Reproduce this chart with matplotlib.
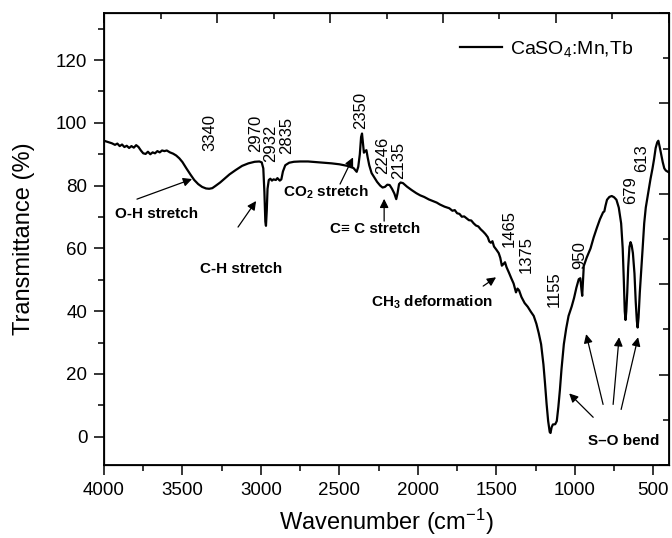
import numpy as np
import matplotlib.pyplot as plt
from matplotlib.ticker import MultipleLocator

plt.rcParams['font.family'] = ['Liberation Sans', 'DejaVu Sans']
plt.rcParams['mathtext.fontset'] = 'custom'
plt.rcParams['mathtext.rm'] = 'Liberation Sans'
plt.rcParams['mathtext.bf'] = 'Liberation Sans:bold'
plt.rcParams['mathtext.it'] = 'Liberation Sans:italic'

# FTIR spectrum
wavenumber = [4000, 3970, 3950, 3930, 3915, 3900, 3885, 3870, 3855, 3840, 3825, 3810, 3795, 3780,
              3765, 3750, 3735, 3720, 3705, 3690, 3675, 3660, 3645, 3630, 3615, 3600, 3580, 3560,
              3540, 3520, 3500, 3475, 3450, 3425, 3400, 3375, 3350, 3330, 3310, 3290, 3260, 3230,
              3200, 3160, 3120, 3080, 3040, 3010, 2995, 2985, 2978, 2972, 2968, 2963, 2958, 2950,
              2940, 2930, 2920, 2905, 2895, 2880, 2870, 2860, 2845, 2820, 2790, 2750, 2700, 2650,
              2600, 2550, 2500, 2450, 2410, 2390, 2380, 2370, 2362, 2356, 2350, 2344, 2336, 2328,
              2320, 2310, 2295, 2280, 2260, 2240, 2225, 2210, 2195, 2180, 2165, 2150, 2138, 2130,
              2120, 2110, 2095, 2070, 2040, 2010, 1985, 1960, 1930, 1900, 1880, 1860, 1830, 1800,
              1780, 1765, 1750, 1735, 1720, 1705, 1690, 1675, 1660, 1645, 1630, 1615, 1600, 1585,
              1570, 1555, 1545, 1535, 1525, 1515, 1500, 1485, 1475, 1465, 1455, 1445, 1435, 1420,
              1405, 1390, 1375, 1365, 1355, 1340, 1320, 1300, 1280, 1262, 1245, 1230, 1215, 1200,
              1190, 1180, 1170, 1160, 1155, 1148, 1140, 1125, 1115, 1105, 1095, 1085, 1070, 1055,
              1040, 1020, 1005, 990, 975, 965, 958, 953, 948, 943, 925, 900, 880, 860, 840, 820,
              812, 805, 795, 780, 765, 750, 735, 720, 705, 695, 688, 682, 677, 672, 666, 660, 652,
              645, 638, 630, 620, 612, 605, 600, 594, 586, 576, 568, 558, 548, 538, 528, 518, 505,
              495, 485, 475, 468, 460, 450, 440, 430, 420, 400]
transmittance = [94.3, 93.8, 93.5, 93.0, 93.4, 92.6, 93.1, 92.3, 92.7, 92.0, 92.6, 92.1, 92.9, 92.3,
                 91.2, 90.3, 90.1, 90.8, 90.0, 90.6, 90.3, 91.0, 90.6, 91.2, 91.0, 91.2, 90.6, 90.2,
                 89.6, 88.7, 87.5, 85.5, 83.6, 81.8, 80.5, 79.6, 79.1, 79.0, 79.2, 79.9, 81.0, 82.3,
                 83.6, 85.0, 86.3, 87.1, 87.6, 87.7, 87.4, 85.5, 78.0, 68.5, 67.2, 72.0, 79.0, 81.8,
                 82.2, 81.6, 82.0, 81.8, 82.4, 81.6, 82.0, 84.5, 86.5, 87.3, 87.6, 87.7, 87.7, 87.5,
                 87.3, 87.1, 86.8, 86.3, 85.6, 84.4, 86.0, 90.0, 95.5, 96.6, 93.5, 90.5, 91.0, 91.3,
                 89.0, 86.5, 84.0, 82.8, 81.2, 80.0, 79.4, 79.6, 80.3, 80.2, 79.0, 77.5, 75.7, 77.5,
                 80.5, 81.0, 80.8, 79.7, 78.6, 77.6, 76.9, 76.4, 75.6, 75.0, 74.6, 74.0, 73.3, 72.8,
                 72.0, 72.2, 71.2, 71.0, 70.1, 70.2, 69.6, 69.0, 68.9, 68.0, 67.3, 67.0, 66.1, 65.4,
                 64.6, 63.6, 62.2, 61.8, 62.3, 60.6, 59.6, 58.5, 57.0, 54.5, 55.0, 55.6, 54.0, 52.3,
                 50.5, 48.8, 46.0, 47.2, 46.6, 44.5, 42.6, 41.4, 39.8, 38.5, 36.0, 33.0, 29.5, 23.0,
                 17.0, 10.5, 5.0, 1.5, 1.2, 3.0, 3.9, 4.0, 5.0, 9.5, 15.0, 21.5, 29.5, 34.5,
                 38.5, 41.5, 44.2, 47.5, 50.2, 50.5, 47.0, 44.9, 50.0, 54.4, 57.0, 60.0, 63.5, 66.5, 69.3, 71.5,
                 71.8, 73.5, 75.5, 76.4, 76.7, 76.3, 75.5, 73.0, 68.0, 60.0, 50.0, 40.0, 37.2, 40.0, 46.0, 54.0, 60.5,
                 62.0, 61.0, 58.5, 52.0, 43.0, 37.0, 34.8, 38.0, 46.0, 53.5, 60.0, 68.0, 73.0, 76.0, 79.0, 82.1, 85.5,
                 88.5, 92.0, 93.8, 94.3, 92.5, 90.0, 87.5, 85.5, 84.8, 84.2]

# peak labels (text, x, y of label bottom)
peak_text = ["3340", "2970", "2932", "2835", "2350", "2246", "2135",
             "1465", "1375", "1155", "950", "679", "613"]
peak_x = [3324, 3032, 2937, 2836, 2362, 2224, 2122, 1418, 1312, 1132, 966, 643, 573]
peak_y = [91.1, 90.6, 87.4, 90.0, 98.0, 83.7, 82.1, 60.3, 52.3, 41.2, 53.4, 74.1, 84.2]

# band assignments (text, text x, text y)
band_text = ["O-H stretch", "C-H stretch", r"CO$_\mathbf{2}$ stretch", "C\u2261 C stretch",
             r"CH$_\mathbf{3}$ deformation", "S\u2013O bend"]
band_x = [3930, 3388, 2859, 2560, 2298, 915]
band_y = [70.9, 53.4, 77.9, 66.1, 42.9, -1.5]

# arrows: tail (x, y) -> head (x, y)
arrow_tail_x = [3790, 3146, 2496, 2215, 1584, 883, 820, 756, 705]
arrow_tail_y = [75.7, 66.8, 80.5, 68.7, 48.0, 6.2, 10.3, 10.3, 8.7]
arrow_head_x = [3439, 3031, 2413, 2215, 1502, 1036, 928, 718, 597]
arrow_head_y = [82.1, 75.1, 89.0, 75.8, 50.8, 13.8, 32.7, 31.7, 31.7]

fig = plt.figure(figsize=(6.72, 5.38), dpi=100)
ax = fig.add_axes([104/672, 1-465/538, 565/672, 452/538])

ax.plot(wavenumber, transmittance, color='black', linewidth=1.6, label=r'CaSO$_4$:Mn,Tb')
ax.set_xlim(4000, 400)
ax.set_ylim(-9, 135)

ax.xaxis.set_major_locator(MultipleLocator(500))
ax.xaxis.set_minor_locator(MultipleLocator(250))
ax.yaxis.set_major_locator(MultipleLocator(20))
ax.yaxis.set_minor_locator(MultipleLocator(10))
ax.set_yticks([0, 20, 40, 60, 80, 100, 120])
ax.tick_params(which='both', direction='out', width=1.1, labelsize=13.5)
ax.tick_params(which='major', length=7, pad=5)
ax.tick_params(which='minor', length=4)
for sp in ax.spines.values():
    sp.set_linewidth(1.3)

ax.set_xlabel(r'Wavenumber (cm$^{-1}$)', fontsize=17, labelpad=6)
ax.set_ylabel('Transmittance (%)', fontsize=17, labelpad=15)

# top / right axes with their own inward ticks
ax_top = ax.twiny()
ax_top.set_xlim(0, 1)
ax_top.xaxis.set_major_locator(MultipleLocator(0.2))
ax_top.xaxis.set_minor_locator(MultipleLocator(0.1))
ax_top.tick_params(which='both', direction='in', width=1.1, labeltop=False)
ax_top.tick_params(which='major', length=7)
ax_top.tick_params(which='minor', length=4)
ax_right = ax.twinx()
ax_right.set_ylim(0, 1)
ax_right.yaxis.set_major_locator(MultipleLocator(0.2))
ax_right.yaxis.set_minor_locator(MultipleLocator(0.1))
ax_right.tick_params(which='both', direction='in', width=1.1, labelright=False)
ax_right.tick_params(which='major', length=7)
ax_right.tick_params(which='minor', length=4)

# peak positions
for i in range(len(peak_text)):
    ax.text(peak_x[i], peak_y[i], peak_text[i], rotation=90, ha='center', va='bottom', fontsize=12)

# band labels
for i in range(len(band_text)):
    ax.text(band_x[i], band_y[i], band_text[i], ha='left', va='center', fontsize=11, fontweight='bold')

for i in range(len(arrow_tail_x)):
    ax.annotate('', xy=(arrow_head_x[i], arrow_head_y[i]), xytext=(arrow_tail_x[i], arrow_tail_y[i]),
                arrowprops=dict(arrowstyle='-|>', color='black', lw=0.9, mutation_scale=13,
                                shrinkA=0, shrinkB=0))

ax.legend(loc='upper right', bbox_to_anchor=(0.968, 0.981), frameon=False, fontsize=14,
          handlelength=2.2, handletextpad=0.4)

plt.savefig('out.png', dpi=100)
